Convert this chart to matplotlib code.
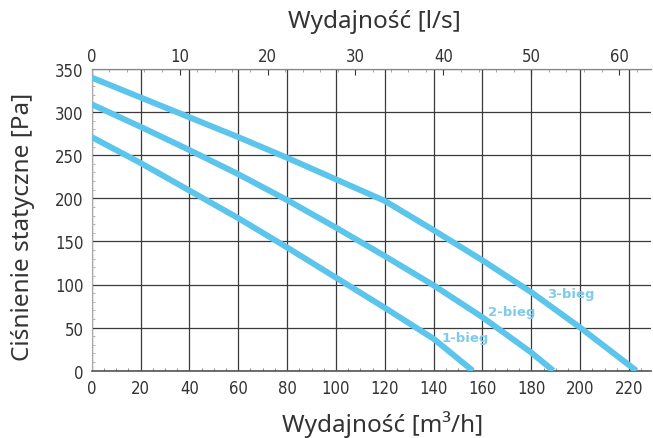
import os
import matplotlib
matplotlib.use("Agg")
import matplotlib.pyplot as plt
from matplotlib.font_manager import FontProperties, fontManager
from matplotlib.ticker import MultipleLocator

# ---- data ----
x_ticks = [0, 20, 40, 60, 80, 100, 120, 140, 160, 180, 200, 220]
y_ticks = [0, 50, 100, 150, 200, 250, 300, 350]
top_ticks = [0, 10, 20, 30, 40, 50, 60]

x1 = [0, 20, 40, 60, 80, 100, 120, 140, 156]
y1 = [271, 241, 209, 177, 143, 108, 73, 37, 0]

x2 = [0, 20, 40, 60, 80, 100, 120, 140, 160, 180, 189]
y2 = [309, 283, 256, 228, 198, 166, 133, 99, 62, 21, 0]

x3 = [0, 20, 40, 60, 80, 100, 120, 140, 160, 180, 200, 223]
y3 = [340, 317, 294, 271, 247, 222, 197, 163, 128, 91, 50, 0]

series_labels = ["1-bieg", "2-bieg", "3-bieg"]
label_pos = [(153, 38), (172, 69), (196, 89)]

title_top = "Wydajność [l/s]"
title_bottom = "Wydajność [m³/h]"
title_left = "Ciśnienie statyczne [Pa]"

# ---- fonts ----
def find_file(names):
    for f in fontManager.ttflist:
        if os.path.basename(f.fname) in names:
            return f.fname
    return None

narrow = find_file(["LiberationSansNarrow-Regular.ttf"])
if narrow:
    tick_fp = FontProperties(fname=narrow, size=13)
else:
    cond = find_file(["DejaVuSansCondensed.ttf"])
    if cond:
        tick_fp = FontProperties(fname=cond, size=12)
    else:
        tick_fp = FontProperties(family="DejaVu Sans", size=10.5)

label_fp = FontProperties(family=["Noto Sans", "DejaVu Sans"], size=17.5)

line_color = "#5BC5EC"
text_color = "#7ECCEB"
grid_color = "#3a3a3a"
dark = "#333333"

fig = plt.figure(figsize=(6.53, 4.39), dpi=100)
ax = fig.add_axes([91.7 / 653, 67.3 / 439, (651 - 91.7) / 653, (371.7 - 70) / 439])

ax.set_xlim(0, 229)
ax.set_ylim(0, 350)

for xs, ys in [(x1, y1), (x2, y2), (x3, y3)]:
    ax.plot(xs, ys, color=line_color, lw=4.3, solid_capstyle="butt",
            solid_joinstyle="round", zorder=3)

for lab, (lx, ly) in zip(series_labels, label_pos):
    ax.text(lx, ly, lab, color=text_color, fontsize=9.5, fontweight="bold",
            ha="center", va="center", zorder=4)

ax.set_xticks(x_ticks)
ax.set_yticks(y_ticks)
ax.xaxis.set_minor_locator(MultipleLocator(5))
ax.yaxis.set_minor_locator(MultipleLocator(10))
ax.grid(True, which="major", color=grid_color, lw=0.9)
ax.set_axisbelow(True)

ax.spines["right"].set_visible(False)
ax.spines["left"].set_color("#aaaaaa")
ax.spines["top"].set_color("#888888")
ax.spines["bottom"].set_color("#555555")
ax.spines["bottom"].set_linewidth(1.2)

ax.tick_params(axis="both", which="major", length=0, pad=6, colors=dark)
ax.tick_params(axis="x", which="minor", direction="in", length=2.5, color="#777777")
ax.tick_params(axis="y", which="minor", direction="in", length=2, color="#aaaaaa")
for t in ax.get_xticklabels() + ax.get_yticklabels():
    t.set_fontproperties(tick_fp)
    t.set_color(dark)

sec = ax.secondary_xaxis("top", functions=(lambda v: v / 3.6, lambda v: v * 3.6))
sec.set_xticks(top_ticks)
sec.xaxis.set_minor_locator(MultipleLocator(2))
sec.tick_params(axis="x", which="major", direction="in", length=4, pad=3, colors=dark)
sec.tick_params(axis="x", which="minor", direction="in", length=2.5, color="#999999")
sec.spines["top"].set_color("#888888")
for t in sec.get_xticklabels():
    t.set_fontproperties(tick_fp)
    t.set_color(dark)

fig.text(374 / 653, 1 - 22 / 439, title_top, fontproperties=label_fp,
         color=dark, ha="center", va="center")
fig.text(383 / 653, 1 - 425 / 439, title_bottom, fontproperties=label_fp,
         color=dark, ha="center", va="center")
fig.text(22.7 / 653, 1 - 227 / 439, title_left, fontproperties=label_fp,
         color=dark, ha="center", va="center", rotation=90)

fig.savefig("out.png", dpi=100)
